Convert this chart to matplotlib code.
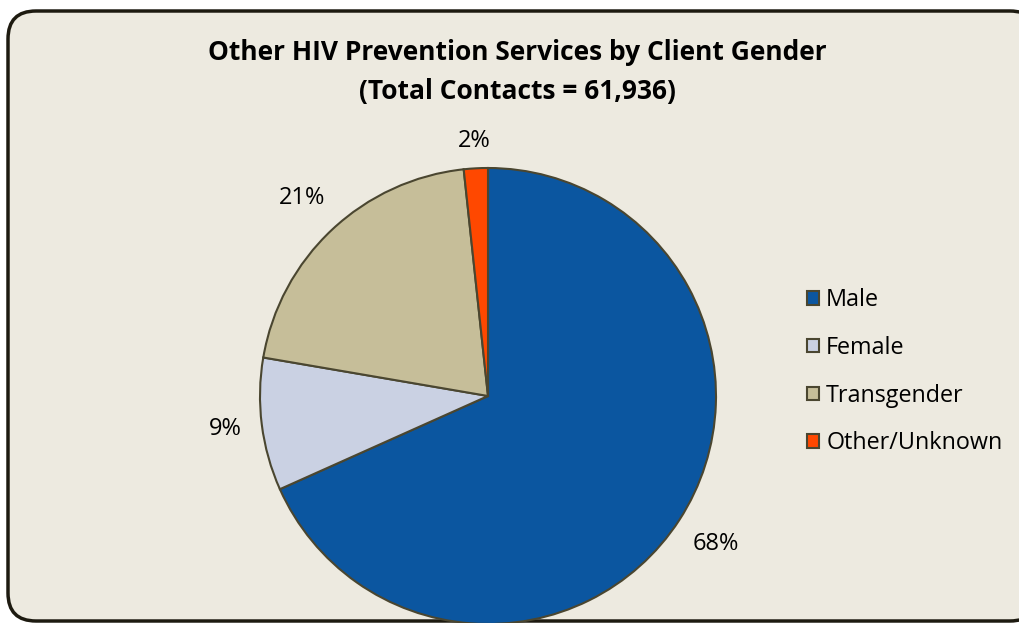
import numpy as np
import matplotlib.pyplot as plt
from matplotlib.patches import FancyBboxPatch

# data
categories = ["Male", "Female", "Transgender", "Other/Unknown"]
shares = [68.3, 9.4, 20.6, 1.7]
pct_labels = ["68%", "9%", "21%", "2%"]
colors = ["#0B56A0", "#CAD1E3", "#C6BE99", "#FF4800"]
label_dist = [1.19, 1.16, 1.19, 1.12]

W, H = 1019, 623
fig = plt.figure(figsize=(W / 100, H / 100), dpi=100)
fig.patch.set_facecolor("white")
ax = fig.add_axes([0, 0, 1, 1])

# rounded chart frame
frame = FancyBboxPatch((8, 2), 1030, 610, boxstyle="round,pad=0,rounding_size=28",
                       facecolor="#EDEAE0", edgecolor="#1D1A10", linewidth=2.5, zorder=0)
ax.add_patch(frame)

cx, cy, r = 488, H - 396, 228
wedges, _ = ax.pie(shares, colors=colors, startangle=90, counterclock=False,
                   center=(cx, cy), radius=r, frame=True,
                   wedgeprops=dict(edgecolor="#4A4630", linewidth=1.5))
ax.set_xlim(0, W)
ax.set_ylim(0, H)
ax.axis("off")

# percentage labels outside each slice, centred on the slice's mid-angle
for w, lab, d in zip(wedges, pct_labels, label_dist):
    ang = np.deg2rad((w.theta1 + w.theta2) / 2)
    ax.text(cx + d * r * np.cos(ang), cy + d * r * np.sin(ang), lab,
            ha="center", va="center", fontsize=17, family="Open Sans")

ax.text(517, H - 53, "Other HIV Prevention Services by Client Gender", ha="center", va="center",
        fontsize=19, fontweight="bold", family="Open Sans")
ax.text(517, H - 91, "(Total Contacts = 61,936)", ha="center", va="center",
        fontsize=19, fontweight="bold", family="Open Sans")

leg = ax.legend(wedges, categories, loc="upper left", bbox_to_anchor=(786 / W, 1 - 267 / H),
                frameon=False, handlelength=0.52, handleheight=0.52, handletextpad=0.3,
                labelspacing=1.02, prop=dict(family="Open Sans", size=16.8))

fig.savefig("out.png", dpi=100)
